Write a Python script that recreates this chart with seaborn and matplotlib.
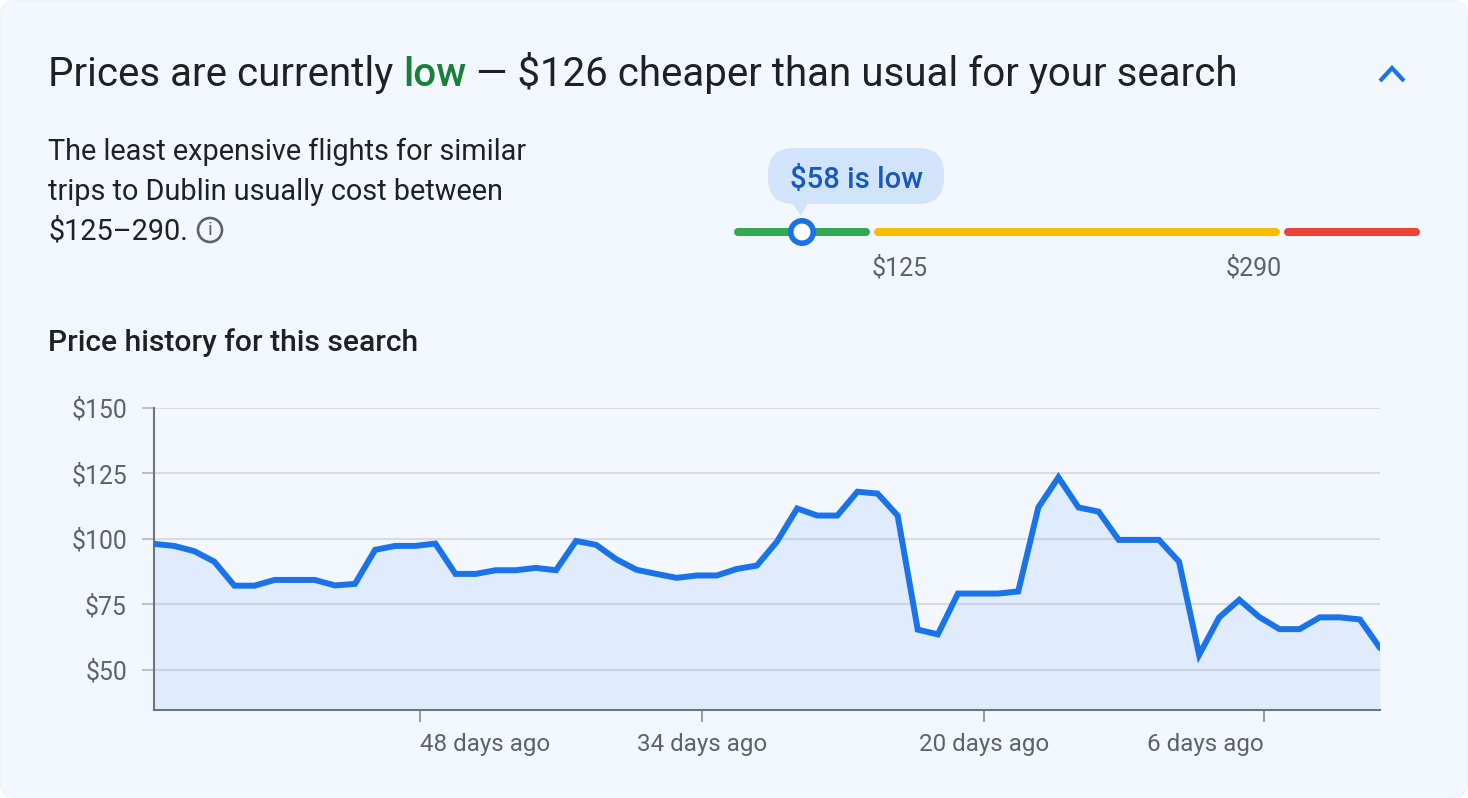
import matplotlib
matplotlib.use("Agg")
import matplotlib.pyplot as plt
from matplotlib.patches import FancyBboxPatch, Circle, Polygon
import numpy as np
import pandas as pd
import seaborn as sns

# prices, oldest day first
days_ago = list(range(61, -1, -1))
prices = [98.1, 97.3, 95.3, 91.3, 82.1, 82.1, 84.3, 84.3, 84.3, 82.2,
          82.8, 95.8, 97.3, 97.3, 98.2, 86.6, 86.6, 88.0, 88.0, 88.9,
          88.0, 99.2, 97.7, 92.2, 88.2, 86.6, 85.1, 86.0, 86.0, 88.5,
          89.8, 99.0, 111.6, 108.9, 108.9, 118.0, 117.3, 108.9, 65.3, 63.5,
          79.1, 79.1, 79.1, 79.9, 112.0, 123.5, 112.0, 110.4, 99.6, 99.6,
          99.6, 91.3, 55.7, 70.0, 76.7, 70.1, 65.5, 65.5, 70.0, 70.0,
          69.2, 58.3]
y_ticks = [50, 75, 100, 125, 150]
x_tick_days = [47.77, 33.74, 19.71, 5.78]
x_tick_labels = ["48 days ago", "34 days ago", "20 days ago", "6 days ago"]
x_tick_aligns = ["left", "center", "center", "right"]

W, H = 1468, 798
CARD = "#F3F8FF"
INK = "#202124"
GREY = "#5F6368"
BLUE = "#1A73E8"

sns.set_theme(style="white")
plt.rcParams["font.family"] = ["Roboto", "DejaVu Sans"]

fig = plt.figure(figsize=(W / 100, H / 100), dpi=100, facecolor="white")

# full size overlay in pixels, for the card, the text and the slider
bg = fig.add_axes([0, 0, 1, 1])
bg.set_xlim(0, W)
bg.set_ylim(H, 0)
bg.axis("off")
bg.add_patch(FancyBboxPatch((0.5, 0.5), W - 1, H - 1, boxstyle="round,pad=0,rounding_size=16",
                            fc=CARD, ec="#EEF3FB", lw=1))

# headline, one run of text per colour
renderer = fig.canvas.get_renderer()
x = 48
for part, col in [("Prices are currently ", INK), ("low", "#188038"),
                  (" — $126 cheaper than usual for your search", INK)]:
    t = bg.text(x, 86, part.replace(" ", "\u00a0"), fontsize=29, color=col, va="baseline", ha="left",
                fontweight="medium" if part == "low" else "normal")
    x = bg.transData.inverted().transform(t.get_window_extent(renderer).max)[0]

# chevron
bg.plot([1380, 1392, 1404], [81, 68, 81], color=BLUE, lw=3, solid_capstyle="butt", solid_joinstyle="miter")

for y, line in zip([160, 200, 240], ["The least expensive flights for similar",
                                     "trips to Dublin usually cost between",
                                     "$125–290."]):
    bg.text(48, y, line, fontsize=20.8, color=INK, va="baseline")

# info icon
bg.add_patch(Circle((210, 230), 12, fc="none", ec=GREY, lw=1.9))
bg.text(210, 230, "i", fontsize=14, color=GREY, ha="center", va="center")

# price range slider
for x0, x1, col in [(738, 866, "#34A853"), (878, 1276, "#FBBC04"), (1288, 1416, "#EA4335")]:
    bg.plot([x0, x1], [232, 232], color=col, lw=5.8, solid_capstyle="round", zorder=2)
bg.add_patch(FancyBboxPatch((768, 148), 176, 56, boxstyle="round,pad=0,rounding_size=26",
                            fc="#D2E3FC", ec="none"))
bg.add_patch(Polygon([[792, 203], [808, 203], [801, 216]], fc="#D2E3FC", ec="none"))
bg.text(856.5, 180, "$58 is low", fontsize=21.1, color="#185ABC", fontweight="medium", ha="center", va="center")
bg.add_patch(Circle((802, 232), 11.2, fc="white", ec=BLUE, lw=4, zorder=5))
bg.text(872, 276, "$125", fontsize=18, color=GREY, ha="left", va="baseline")
bg.text(1282, 276, "$290", fontsize=18, color=GREY, ha="right", va="baseline")

bg.text(48, 351, "Price history for this search", fontsize=21.6, color=INK, fontweight="medium", va="baseline")

# price history chart
top, bottom, left, right = 408, 710, 154, 1380
ax = fig.add_axes([left / W, 1 - bottom / H, (right - left) / W, (bottom - top) / H])
ax.patch.set_alpha(0)
df = pd.DataFrame({"days_ago": days_ago, "price": prices})
ax.fill_between(df["days_ago"], df["price"], 30, color=BLUE, alpha=0.085, lw=0, zorder=2)
sns.lineplot(data=df, x="days_ago", y="price", ax=ax, color=BLUE, linewidth=4.3, zorder=3)
ax.lines[-1].set_solid_joinstyle("miter")

ax.set_xlim(61, 0)
ax.set_ylim(34.6, 150)
ax.set_xlabel("")
ax.set_ylabel("")
ax.set_yticks(y_ticks)
ax.set_yticklabels([f"${v}" for v in y_ticks])
ax.set_xticks(x_tick_days)
ax.set_xticklabels(x_tick_labels)
for lab, al in zip(ax.get_xticklabels(), x_tick_aligns):
    lab.set_ha(al)
ax.yaxis.grid(True, color="#DADCE0", lw=1.5, zorder=1)
ax.set_axisbelow(True)
ax.tick_params(axis="y", left=True, length=8.5, width=1.5, color="#BDC1C6", labelsize=17.8,
               labelcolor=GREY, pad=11)
ax.tick_params(axis="x", bottom=True, length=8.5, width=1.5, color="#9AA0A6", labelsize=17.4,
               labelcolor=GREY, pad=8)
for side in ["top", "right"]:
    ax.spines[side].set_visible(False)
for side in ["left", "bottom"]:
    ax.spines[side].set_color("#70757A")
    ax.spines[side].set_linewidth(1.5)

fig.savefig("out.png", dpi=100)
